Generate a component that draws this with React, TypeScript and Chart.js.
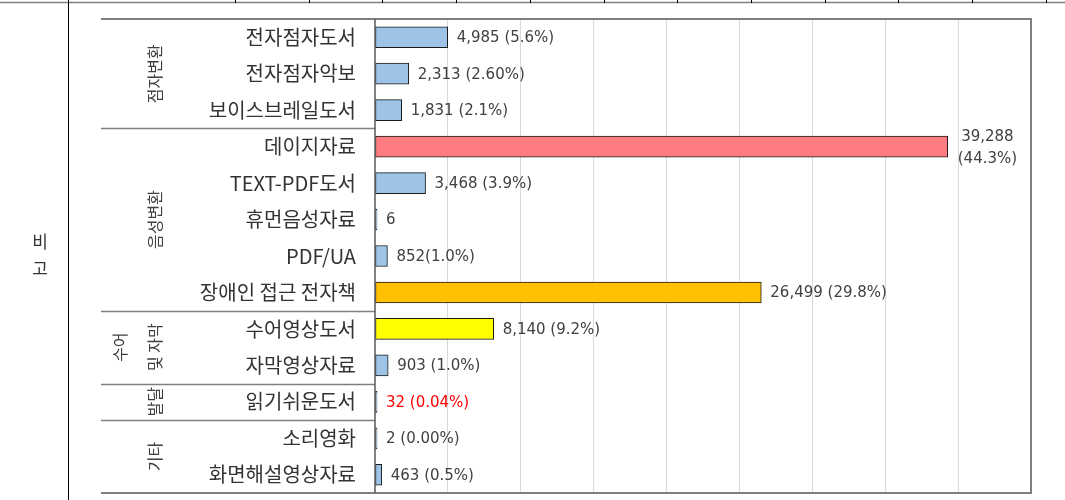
import React, { useEffect, useRef } from "react";
import { Chart, registerables } from "chart.js";

Chart.register(...registerables);

const categories = [
  "전자점자도서",
  "전자점자악보",
  "보이스브레일도서",
  "데이지자료",
  "TEXT-PDF도서",
  "휴먼음성자료",
  "PDF/UA",
  "장애인 접근 전자책",
  "수어영상도서",
  "자막영상자료",
  "읽기쉬운도서",
  "소리영화",
  "화면해설영상자료",
];

const values = [4985, 2313, 1831, 39288, 3468, 6, 852, 26499, 8140, 903, 32, 2, 463];

const valueLabels = [
  "4,985 (5.6%)",
  "2,313 (2.60%)",
  "1,831 (2.1%)",
  "39,288\n(44.3%)",
  "3,468 (3.9%)",
  "6",
  "852(1.0%)",
  "26,499 (29.8%)",
  "8,140 (9.2%)",
  "903 (1.0%)",
  "32 (0.04%)",
  "2 (0.00%)",
  "463 (0.5%)",
];

const BLUE = "#9dc3e6";
const PINK = "#ff7c80";
const ORANGE = "#ffc000";
const YELLOW = "#ffff00";

const barColors = [BLUE, BLUE, BLUE, PINK, BLUE, BLUE, BLUE, ORANGE, YELLOW, BLUE, BLUE, BLUE, BLUE];
const labelColors = ["#404040", "#404040", "#404040", "#404040", "#404040", "#404040", "#404040", "#404040", "#404040", "#404040", "#ff0000", "#404040", "#404040"];

const groupNames = [["점자변환"], ["음성변환"], ["수어", "및 자막"], ["발달"], ["기타"]];
const groupSizes = [3, 5, 2, 1, 2];

const axisMax = 45000;
const axisStep = 5000;

const sideTitle = ["비", "고"];

const KFONT = "'Noto Sans CJK KR', 'Noto Sans', sans-serif";

const decorPlugin = {
  id: "decor",
  afterDatasetsDraw(chart: any) {
    const ctx = chart.ctx;
    const meta = chart.getDatasetMeta(0);
    ctx.save();
    ctx.font = "15px 'DejaVu Sans', sans-serif";
    ctx.textBaseline = "middle";
    meta.data.forEach((bar: any, i: number) => {
      const lines = valueLabels[i].split("\n");
      ctx.fillStyle = labelColors[i];
      const x0 = bar.x + 9;
      if (lines.length === 1) {
        ctx.textAlign = "left";
        ctx.fillText(lines[0], x0, bar.y + 1);
      } else {
        const w = Math.max(...lines.map((l: string) => ctx.measureText(l).width));
        ctx.textAlign = "center";
        const lh = 22;
        lines.forEach((l: string, k: number) => {
          ctx.fillText(l, x0 + 1 + w / 2, bar.y + 1 + (k - (lines.length - 1) / 2) * lh);
        });
      }
    });
    ctx.restore();
  },
  afterDraw(chart: any) {
    const ctx = chart.ctx;
    const area = chart.chartArea;
    const y = chart.scales.y;
    const n = categories.length;
    const boundary = (a: number) => {
      if (a <= 0) return area.top;
      if (a >= n) return area.bottom;
      return (y.getPixelForValue(a - 1) + y.getPixelForValue(a)) / 2;
    };
    const labelLeft = 101;
    ctx.save();
    // outer frame
    ctx.strokeStyle = "#7f7f7f";
    ctx.lineWidth = 2;
    ctx.beginPath();
    ctx.moveTo(labelLeft, area.top);
    ctx.lineTo(area.right, area.top);
    ctx.lineTo(area.right, area.bottom);
    ctx.lineTo(labelLeft, area.bottom);
    ctx.stroke();
    // group separators
    let start = 0;
    ctx.lineWidth = 1.5;
    groupSizes.forEach((sz, gi) => {
      const top = boundary(start);
      const bottom = boundary(start + sz);
      if (start > 0) {
        ctx.strokeStyle = "#7f7f7f";
        ctx.beginPath();
        ctx.moveTo(labelLeft, Math.round(top) + 0.5);
        ctx.lineTo(area.left, Math.round(top) + 0.5);
        ctx.stroke();
      }
      const cy = (top + bottom) / 2;
      const lines = groupNames[gi];
      const xs = lines.length === 1 ? [155] : [120, 155];
      ctx.fillStyle = "#404040";
      ctx.font = "16px " + KFONT;
      ctx.textAlign = "center";
      ctx.textBaseline = "middle";
      lines.forEach((l, k) => {
        ctx.save();
        ctx.translate(xs[k], cy);
        ctx.rotate(-Math.PI / 2);
        ctx.fillText(l, 0, 0);
        ctx.restore();
      });
      start += sz;
    });
    // y axis line
    ctx.strokeStyle = "#595959";
    ctx.lineWidth = 1.5;
    ctx.beginPath();
    ctx.moveTo(area.left, area.top);
    ctx.lineTo(area.left, area.bottom);
    ctx.stroke();
    // surrounding table lines
    ctx.strokeStyle = "#808080";
    ctx.lineWidth = 1.5;
    ctx.beginPath();
    ctx.moveTo(0, 2.5);
    ctx.lineTo(chart.width, 2.5);
    ctx.stroke();
    ctx.strokeStyle = "#000000";
    ctx.lineWidth = 1;
    ctx.beginPath();
    ctx.moveTo(68.5, 0);
    ctx.lineTo(68.5, chart.height);
    ctx.stroke();
    ctx.beginPath();
    for (let tx = 235; tx < chart.width; tx += 73.7) {
      ctx.moveTo(Math.round(tx) + 0.5, 0);
      ctx.lineTo(Math.round(tx) + 0.5, 3);
    }
    ctx.stroke();
    // side title
    ctx.fillStyle = "#333333";
    ctx.font = "17px " + KFONT;
    ctx.textAlign = "center";
    ctx.textBaseline = "middle";
    sideTitle.forEach((t, k) => {
      ctx.fillText(t, 40, 242 + k * 27);
    });
    ctx.restore();
  },
};

export default function App() {
  const ref = useRef<HTMLCanvasElement | null>(null);
  useEffect(() => {
    if (!ref.current) return;
    const chart = new Chart(ref.current, {
      type: "bar",
      data: {
        labels: categories,
        datasets: [
          {
            data: values,
            backgroundColor: barColors,
            borderColor: "#1a1a1a",
            borderWidth: 1,
            borderSkipped: false,
            barThickness: 21,
            minBarLength: 2,
          },
        ],
      },
      options: {
        indexAxis: "y",
        animation: false,
        responsive: false,
        devicePixelRatio: 1,
        layout: { autoPadding: false, padding: { left: 0, top: 19, right: 34, bottom: 7 } },
        plugins: {
          legend: { display: false },
          tooltip: { enabled: false },
          title: { display: false },
        },
        scales: {
          x: {
            min: 0,
            max: axisMax,
            ticks: { display: false, stepSize: axisStep },
            grid: {
              drawTicks: false,
              color: (c: any) => (c.tick && (c.tick.value === 0 || c.tick.value === axisMax) ? "rgba(0,0,0,0)" : "#d9d9d9"),
              lineWidth: 1,
            },
            border: { display: false },
            afterFit: (s: any) => {
              s.height = 0;
              s.paddingLeft = 0;
              s.paddingRight = 0;
              s.paddingTop = 0;
              s.paddingBottom = 0;
            },
          },
          y: {
            grid: { display: false, drawTicks: false },
            border: { display: false },
            ticks: {
              autoSkip: false,
              padding: 19,
              color: "#333333",
              font: { family: KFONT, size: 20 },
            },
            afterFit: (s: any) => {
              s.width = 375;
              s.paddingLeft = 0;
              s.paddingRight = 0;
              s.paddingTop = 0;
              s.paddingBottom = 0;
            },
          },
        },
      },
      plugins: [decorPlugin],
    });
    return () => chart.destroy();
  }, []);
  return (
    <div style={{ position: "absolute", left: 0, top: 0, width: 1065, height: 500, background: "#fff" }}>
      <canvas ref={ref} width={1065} height={500} style={{ width: 1065, height: 500, display: "block" }} />
    </div>
  );
}
